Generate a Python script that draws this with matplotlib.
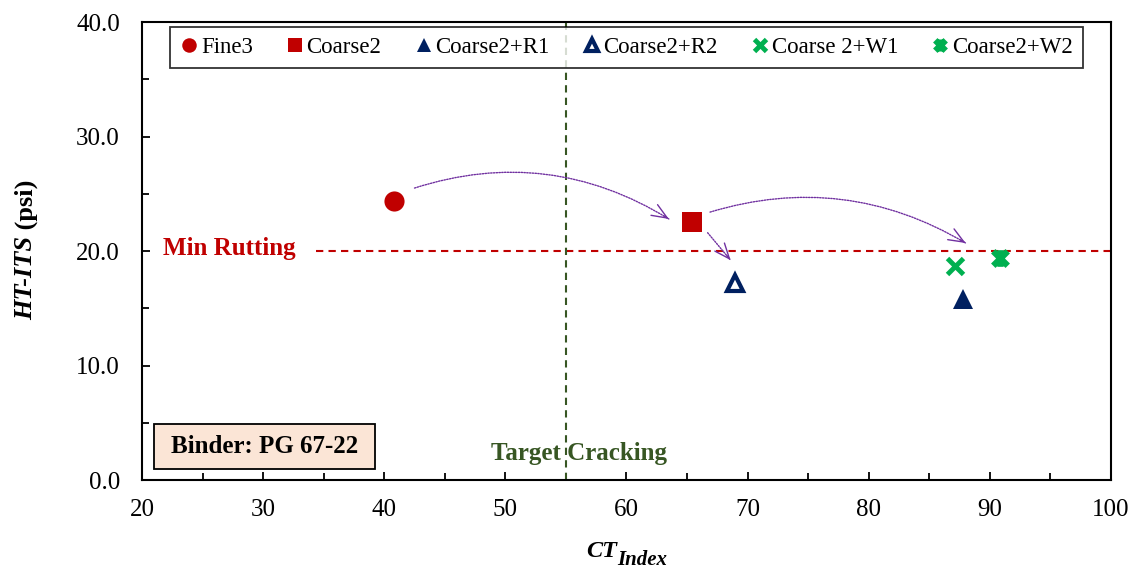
import numpy as np
import matplotlib
matplotlib.use("Agg")
import matplotlib.pyplot as plt
from matplotlib.path import Path
from matplotlib.patches import Rectangle

plt.rcParams['font.family'] = ['Liberation Serif', 'DejaVu Serif']

# ---- data ----
mixes = ["Fine3", "Coarse2", "Coarse2+R1", "Coarse2+R2", "Coarse 2+W1", "Coarse2+W2"]
ct_index = [40.8, 65.4, 87.8, 69.0, 87.1, 90.8]
ht_its = [24.4, 22.5, 15.8, 17.2, 18.7, 19.4]

min_rutting = 20.0
target_cracking = 55.0

# arrows showing the change between mixes: (start), (end), curvature
arrow_starts = [(42.5, 25.5), (66.9, 23.4), (66.7, 21.6)]
arrow_ends = [(63.5, 22.8), (88.0, 20.7), (68.6, 19.2)]
arrow_rads = [-0.23, -0.22, 0.0]

x_ticks = [20, 30, 40, 50, 60, 70, 80, 90, 100]
y_ticks = [0, 10, 20, 30, 40]

# ---- styles ----
RED = "#C00000"
NAVY = "#002060"
GREEN = "#00B050"
DKGREEN = "#375623"
PURPLE = "#7030A0"

# star marker: an x with a vertical bar through it
star_path = Path(
    [(-1, -1), (1, 1), (-1, 1), (1, -1), (0, -1.15), (0, 1.15)],
    [Path.MOVETO, Path.LINETO, Path.MOVETO, Path.LINETO, Path.MOVETO, Path.LINETO],
)

styles = [
    dict(marker='o', ms=14.5, mfc=RED, mec=RED, mew=0),
    dict(marker='s', ms=14, mfc=RED, mec=RED, mew=0),
    dict(marker='^', ms=14.5, mfc=NAVY, mec=NAVY, mew=0),
    dict(marker='^', ms=11.5, mfc='white', mec=NAVY, mew=3),
    dict(marker='x', ms=12, mfc=GREEN, mec=GREEN, mew=3.5),
    dict(marker=star_path, ms=12, mfc='none', mec=GREEN, mew=4.5),
]

fig = plt.figure(figsize=(11.35, 5.68), dpi=100)
ax = fig.add_axes([0.1251, 0.1549, 0.8537, 0.8063])
ax.set_xlim(20, 100)
ax.set_ylim(0, 40)

# reference lines
ax.plot([34.4, 100], [min_rutting, min_rutting], color=RED, lw=1.5,
        dashes=(3.5, 2.5), zorder=2)
ax.plot([target_cracking, target_cracking], [0, 40], color=DKGREEN, lw=1.5,
        dashes=(3.5, 2.5), zorder=2)

handles = []
for name, x, y, st in zip(mixes, ct_index, ht_its, styles):
    h, = ax.plot([x], [y], linestyle='none', label=name, zorder=5, **st)
    handles.append(h)

# curved arrows: dotted shaft with a solid open head
fig.canvas.draw()
trans = ax.transData
for (s, e, rad) in zip(arrow_starts, arrow_ends, arrow_rads):
    ax.annotate("", xy=e, xytext=s,
                arrowprops=dict(arrowstyle='-', color=PURPLE, lw=1.0,
                                linestyle=(0, (1, 1)),
                                connectionstyle=f"arc3,rad={rad}",
                                shrinkA=0, shrinkB=0), zorder=4)
    p1 = np.array(trans.transform(s))
    p2 = np.array(trans.transform(e))
    d = p2 - p1
    mid = (p1 + p2) / 2
    ctrl = mid + rad * np.array([d[1], -d[0]])
    tang = p2 - ctrl
    tang = tang / np.hypot(*tang)
    back = trans.inverted().transform(p2 - tang * 6)
    ax.annotate("", xy=e, xytext=tuple(back),
                arrowprops=dict(arrowstyle='->,head_length=1.1,head_width=0.45',
                                color=PURPLE, lw=1.0,
                                shrinkA=0, shrinkB=0), zorder=4)

# annotations
ax.text(21.7, 20.2, "Min Rutting", color=RED, fontsize=18, fontweight='bold',
        ha='left', va='center')
ax.text(56.1, 2.35, "Target Cracking", color=DKGREEN, fontsize=18,
        fontweight='bold', ha='center', va='center')
ax.add_patch(Rectangle((21.0, 1.0), 18.2, 3.9, facecolor='#FBE5D6',
                       edgecolor='black', lw=1.3, zorder=6))
ax.text(30.1, 2.95, "Binder: PG 67-22", fontsize=18, fontweight='bold',
        ha='center', va='center', zorder=7)

# axes styling
ax.set_xticks(x_ticks)
ax.set_yticks(y_ticks)
ax.set_xticks(np.arange(25, 100, 10), minor=True)
ax.set_yticks(np.arange(5, 40, 10), minor=True)
ax.set_yticklabels([f"{v:.1f}" for v in y_ticks])
ax.tick_params(which='both', direction='in', width=1.3, labelsize=18)
ax.tick_params(which='major', length=6)
ax.tick_params(which='minor', length=5)
ax.tick_params(axis='x', which='major', pad=14)
ax.tick_params(axis='y', which='major', pad=16)
for sp in ax.spines.values():
    sp.set_linewidth(1.5)

fig.canvas.draw()
r = fig.canvas.get_renderer()
W = fig.get_figwidth() * fig.dpi
H = fig.get_figheight() * fig.dpi

# x label: bold italic CT with a large subscript
c1 = fig.text(0, 0, "CT", fontsize=17.5, fontweight='bold', fontstyle='italic',
              ha='left', va='baseline')
c2 = fig.text(0, 0, "Index", fontsize=15, fontweight='bold', fontstyle='italic',
              ha='left', va='baseline')
w1 = c1.get_window_extent(r).width
w2 = c2.get_window_extent(r).width
xc = 627
base = 568 - 557
c1.set_position(((xc - (w1 + w2) / 2) / W, base / H))
c2.set_position(((xc - (w1 + w2) / 2 + w1) / W, (base - 8) / H))

# y label: bold italic name followed by bold upright unit
t1 = fig.text(0, 0, "HT-ITS", fontsize=19, fontweight='bold', fontstyle='italic',
              rotation=90)
t2 = fig.text(0, 0, " (psi)", fontsize=19, fontweight='bold', rotation=90)
h1 = t1.get_window_extent(r).height
h2 = t2.get_window_extent(r).height
yc = 568 - 250
x_lab = 26 / 1135
t1.set_position((x_lab, (yc - (h1 + h2) / 2) / H))
t1.set_ha('center'); t1.set_va('bottom')
t2.set_position((x_lab, (yc - (h1 + h2) / 2 + h1) / H))
t2.set_ha('center'); t2.set_va('bottom')

leg = ax.legend(handles=handles, loc='upper center', ncol=6, fontsize=16.5,
                frameon=True, fancybox=False, edgecolor='black',
                bbox_to_anchor=(0.5, 0.99), borderaxespad=0,
                handlelength=0.8, handletextpad=0.1, columnspacing=1.45,
                borderpad=0.45, markerscale=0.72)
leg.get_frame().set_linewidth(1.3)

fig.savefig("out.png", dpi=100)
